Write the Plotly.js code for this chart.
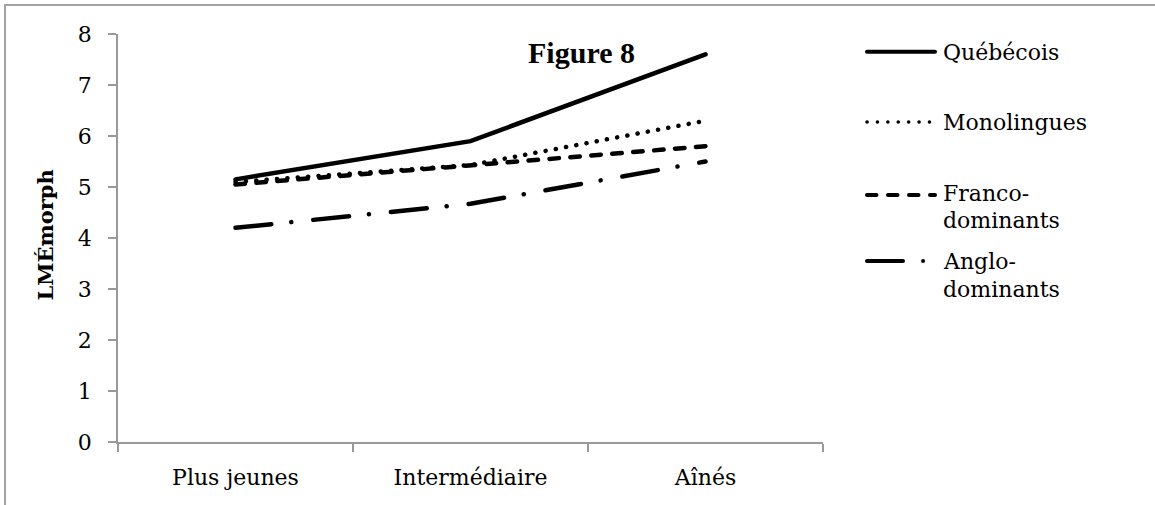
<!DOCTYPE html>
<html>
<head>
<meta charset="utf-8">
<script src="https://cdn.plot.ly/plotly-3.0.1.min.js"></script>
<style>
  html, body { margin: 0; padding: 0; background: #fff; overflow: hidden; }
  #frame { position: absolute; left: 4px; top: 4px; width: 1400px; height: 800px;
           border-top: 2px solid #a3a3a3; border-left: 2px solid #a3a3a3; }
  #chart { position: absolute; left: 0; top: 0; width: 1155px; height: 505px; }
  .scatterlayer .js-line, .shapelayer path { stroke-linecap: round; }
</style>
</head>
<body>
<div id="frame"></div>
<div id="chart"></div>
<script>
// Mean LMÉmorph by age group for each speaker group
const ageGroups = ['Plus jeunes', 'Intermédiaire', 'Aînés'];
const seriesNames = ['Québécois', 'Monolingues', 'Franco-dominants', 'Anglo-dominants'];
const quebecois = [5.15, 5.9, 7.6];
const monolingues = [5.1, 5.43, 6.3];
const francoDominants = [5.05, 5.42, 5.8];
const angloDominants = [4.2, 4.67, 5.5];
const yTicks = [0, 1, 2, 3, 4, 5, 6, 7, 8];
const chartTitle = 'Figure 8';
const yTitle = 'LMÉmorph';

const seriesValues = [quebecois, monolingues, francoDominants, angloDominants];

// Line styles: solid, round dot, dash, long dash-dot
const dashes = ['solid', '0.1px,10.3px', '9.5px,11.5px', '36px,20px,0.1px,22px'];

// Plot area geometry (pixels)
const W = 1155, H = 505;
const L = 118, R = 823, T = 34, B = 442;
const pw = R - L, ph = B - T;
const px = x => (x - L) / pw;
const py = y => (B - y) / ph;

const serif = 'DejaVu Serif';
const grey = '#999999';

const traces = seriesNames.map((name, i) => ({
  type: 'scatter',
  mode: 'lines',
  name: name,
  x: ageGroups,
  y: seriesValues[i],
  line: { color: '#000', width: 4.5, dash: dashes[i] },
  cliponaxis: false,
  showlegend: false,
  hoverinfo: 'skip'
}));

// Hand-built key: sample line plus label lines to the right
const keySampleY = [51.7, 122, 195, 261];
const keyBaselines = [[60], [130], [201, 228], [269, 297]];
const shapes = [];
const annotations = [];
seriesNames.forEach((name, i) => {
  shapes.push({
    type: 'line', xref: 'paper', yref: 'paper',
    x0: px(867), x1: px(935), y0: py(keySampleY[i]), y1: py(keySampleY[i]),
    line: { color: '#000', width: i === 1 ? 3.5 : 4, dash: dashes[i] }
  });
  const parts = name.split(/(?<=-)/);
  parts.forEach((part, j) => {
    annotations.push({
      xref: 'paper', yref: 'paper',
      x: px(941), y: py(keyBaselines[i][j] - 7.6),
      xanchor: 'left', yanchor: 'middle',
      text: part, showarrow: false,
      font: { family: serif, size: 22, color: '#000' }
    });
  });
});

annotations.push({
  xref: 'paper', yref: 'paper',
  x: px(45), y: py(235.5),
  xanchor: 'center', yanchor: 'middle',
  textangle: -90, text: yTitle, showarrow: false,
  font: { family: serif, size: 21, color: '#000', weight: 700 }
});

const layout = {
  width: W, height: H,
  margin: { l: L, r: W - R, t: T, b: H - B, pad: 0 },
  paper_bgcolor: 'rgba(0,0,0,0)',
  plot_bgcolor: 'rgba(0,0,0,0)',
  showlegend: false,
  title: {
    text: chartTitle,
    xref: 'container', x: 581.5 / W, xanchor: 'center',
    yref: 'container', y: 1 - 52 / H, yanchor: 'middle',
    font: { family: 'Liberation Serif', size: 30, weight: 700, color: '#000' }
  },
  xaxis: {
    type: 'category',
    categoryarray: ageGroups,
    range: [-0.5, 2.5],
    tickson: 'boundaries',
    ticks: 'outside', ticklen: 8, tickwidth: 1.75, tickcolor: grey,
    showline: true, linecolor: grey, linewidth: 1.75,
    showgrid: false, zeroline: false,
    ticklabelstandoff: 15,
    tickfont: { family: serif, size: 22, color: '#000' }
  },
  yaxis: {
    range: [0, 8],
    tickvals: yTicks,
    ticktext: yTicks.map(String),
    ticks: 'outside', ticklen: 8, tickwidth: 1.75, tickcolor: grey,
    showline: true, linecolor: grey, linewidth: 1.75,
    showgrid: false, zeroline: false,
    ticklabelstandoff: 12,
    tickfont: { family: serif, size: 22, color: '#000' }
  },
  shapes: shapes,
  annotations: annotations
};

Plotly.newPlot('chart', traces, layout, { displayModeBar: false, staticPlot: true });
</script>
</body>
</html>
